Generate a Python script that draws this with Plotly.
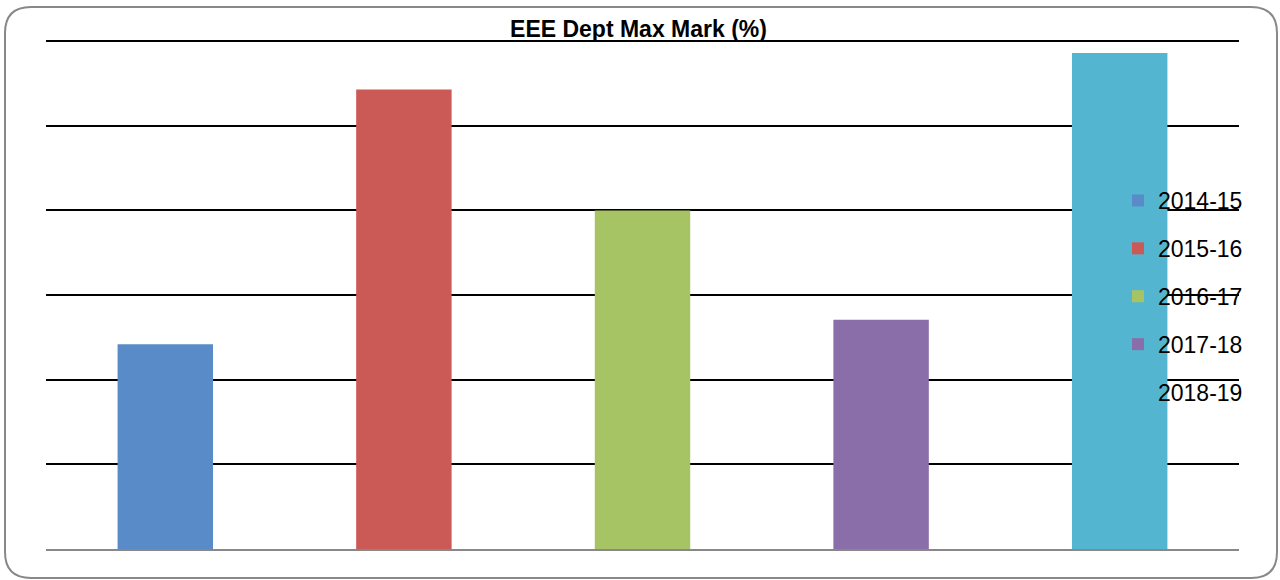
import plotly.graph_objects as go

# ---- data (axis has no labels, so values are in gridline units) ----
years = ["2014-15", "2015-16", "2016-17", "2017-18", "2018-19"]
max_mark = [2.42, 5.43, 4.00, 2.71, 5.86]
colors = ["#598BC9", "#CB5A56", "#A7C465", "#8A6EA9", "#53B5D0"]
title_text = "EEE Dept Max Mark (%)"

W, H = 1280, 580
L, R, T, B = 46, 41, 37, 31
PW, PH = W - L - R, H - T - B

def px(x):
    return (x - L) / PW

def py(y):
    return (H - B - y) / PH

fig = go.Figure()
for yr, v, c in zip(years, max_mark, colors):
    fig.add_trace(go.Bar(
        x=[yr], y=[v], name=yr, marker=dict(color=c, line=dict(width=0)),
        width=0.4, legendgroup=yr,
    ))

# rounded chart border
x0, x1, y0, y1, r = 5, 1277, 7, 578, 26
path = (
    f"M {px(x0 + r)},{py(y0)} L {px(x1 - r)},{py(y0)} "
    f"Q {px(x1)},{py(y0)} {px(x1)},{py(y0 + r)} "
    f"L {px(x1)},{py(y1 - r)} Q {px(x1)},{py(y1)} {px(x1 - r)},{py(y1)} "
    f"L {px(x0 + r)},{py(y1)} Q {px(x0)},{py(y1)} {px(x0)},{py(y1 - r)} "
    f"L {px(x0)},{py(y0 + r)} Q {px(x0)},{py(y0)} {px(x0 + r)},{py(y0)} Z"
)

fig.update_layout(
    width=W, height=H,
    margin=dict(l=L, r=R, t=T, b=B, pad=0),
    paper_bgcolor="white", plot_bgcolor="white",
    barmode="overlay",
    font=dict(family="Liberation Sans, Arial, sans-serif", color="black"),
    title=dict(
        text=f"<b>{title_text}</b>", x=(510 + 767) / 2 / W, xanchor="center",
        y=1 - 29 / H, yanchor="middle", yref="container",
        font=dict(size=23, family="Liberation Sans, Arial, sans-serif", color="black"),
    ),
    xaxis=dict(showticklabels=False, showgrid=False, zeroline=False,
               showline=True, linecolor="#888888", linewidth=2, ticks=""),
    yaxis=dict(range=[0, 6.05], tick0=0, dtick=1, showticklabels=False, showgrid=True,
               gridcolor="black", gridwidth=2, zeroline=False, showline=False,
               ticks=""),
    legend=dict(
        x=px(1118), xanchor="left", y=py(179), yanchor="top",
        bgcolor="rgba(0,0,0,0)", borderwidth=0,
        font=dict(size=23, family="Liberation Sans, Arial, sans-serif", color="black"),
        traceorder="grouped", tracegroupgap=15,
    ),
    shapes=[dict(type="path", path=path, xref="paper", yref="paper",
                 line=dict(color="#888888", width=2), layer="above")],
    showlegend=True,
)

fig.write_html(
    "out.html",
    config={"displayModeBar": False},
    post_script="document.body.style.margin='0';document.body.style.padding='0';",
)
